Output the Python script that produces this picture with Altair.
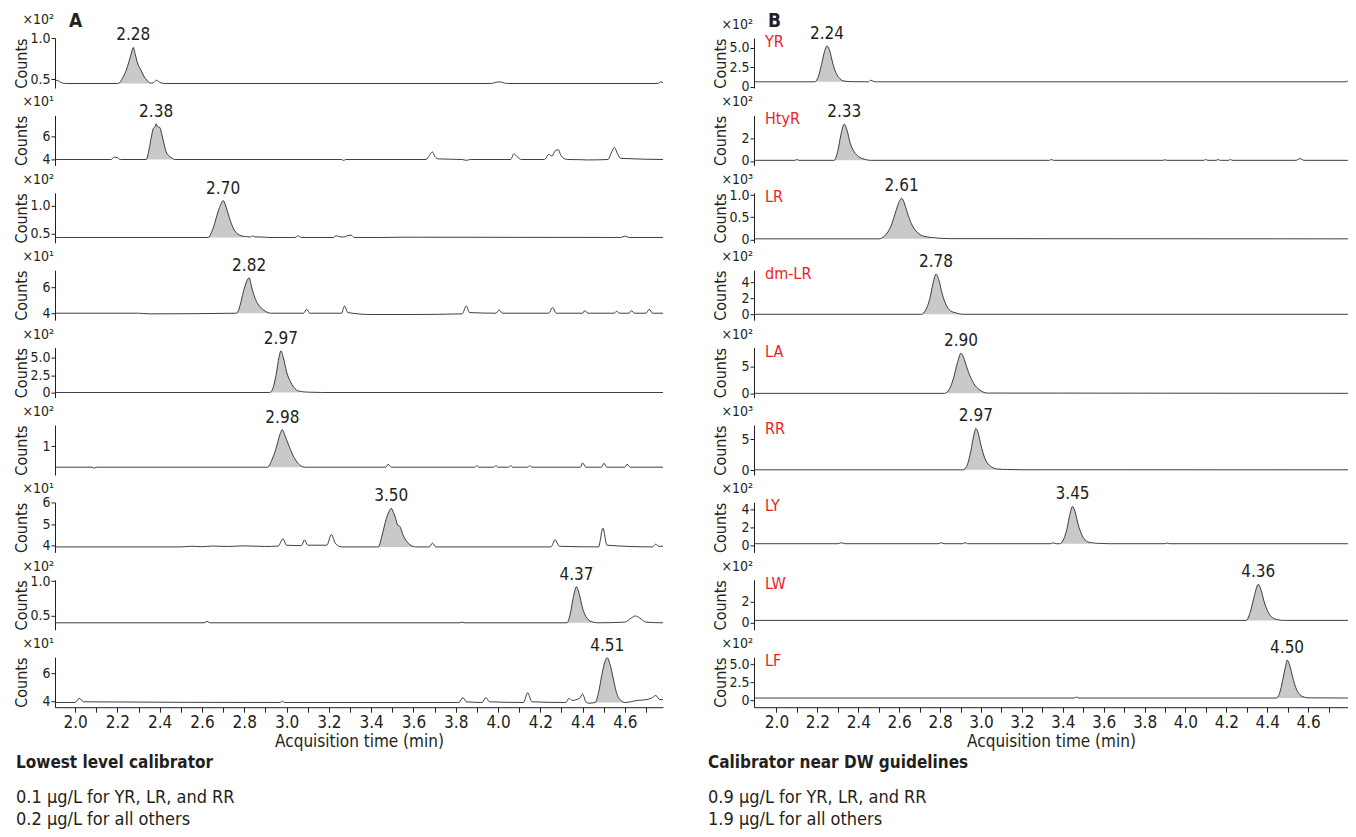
import altair as alt
import pandas as pd

FONT = "'Liberation Sans Narrow', 'DejaVu Sans Condensed', 'Roboto Condensed', 'Arial Narrow', 'Liberation Sans', sans-serif"
INK = "#231f20"
RED = "#ed1c24"

# ---------------- data: column A (lowest level calibrator) ----------------
A1_t = [1.905, 1.915, 1.925, 1.94, 1.96, 2.20, 2.21, 2.225, 2.24, 2.255, 2.265, 2.275, 2.285, 2.295, 2.31, 2.325, 2.34, 2.355, 2.37, 2.385, 2.40, 2.42, 3.97, 3.99, 4.01, 4.03, 4.05, 4.755, 4.77, 4.78]
A1_y = [0.46, 0.49, 0.475, 0.455, 0.45, 0.45, 0.46, 0.52, 0.60, 0.72, 0.81, 0.89, 0.80, 0.70, 0.62, 0.54, 0.49, 0.455, 0.46, 0.49, 0.465, 0.45, 0.45, 0.465, 0.47, 0.455, 0.45, 0.45, 0.47, 0.46]
A2_t = [1.905, 2.17, 2.185, 2.20, 2.215, 2.336, 2.35, 2.36, 2.37, 2.378, 2.383, 2.39, 2.40, 2.41, 2.42, 2.43, 2.445, 2.46, 2.47, 3.26, 3.27, 3.28, 3.66, 3.675, 3.69, 3.70, 3.72, 3.83, 3.85, 3.87, 4.06, 4.075, 4.09, 4.11, 4.22, 4.24, 4.255, 4.27, 4.285, 4.295, 4.31, 4.33, 4.40, 4.42, 4.52, 4.535, 4.55, 4.565, 4.58, 4.78]
A2_y = [4.0, 4.0, 4.2, 4.15, 4.0, 4.0, 4.9, 5.9, 6.7, 6.85, 7.1, 6.85, 6.8, 6.2, 5.4, 4.7, 4.3, 4.1, 4.0, 4.0, 3.92, 4.0, 4.0, 4.35, 4.65, 4.3, 4.05, 4.0, 3.93, 4.0, 4.0, 4.5, 4.25, 4.0, 4.0, 4.45, 4.3, 4.75, 4.85, 4.45, 4.1, 4.0, 3.98, 3.96, 4.0, 4.55, 5.05, 4.5, 4.1, 4.0]
A3_t = [1.905, 2.63, 2.645, 2.66, 2.675, 2.69, 2.70, 2.71, 2.72, 2.735, 2.75, 2.77, 2.80, 2.83, 2.84, 2.85, 2.87, 2.92, 3.04, 3.054, 3.07, 3.22, 3.235, 3.255, 3.275, 3.29, 3.305, 3.32, 3.46, 3.55, 4.58, 4.60, 4.62, 4.78]
A3_y = [0.43, 0.43, 0.52, 0.68, 0.88, 1.03, 1.09, 1.02, 0.90, 0.72, 0.58, 0.49, 0.45, 0.44, 0.46, 0.44, 0.44, 0.43, 0.43, 0.46, 0.43, 0.43, 0.46, 0.44, 0.44, 0.465, 0.47, 0.43, 0.43, 0.435, 0.43, 0.455, 0.43, 0.43]
A4_t = [1.905, 2.30, 2.35, 2.764, 2.78, 2.795, 2.81, 2.823, 2.835, 2.85, 2.865, 2.88, 2.90, 2.925, 3.08, 3.095, 3.11, 3.26, 3.274, 3.29, 3.40, 3.60, 3.83, 3.85, 3.865, 3.99, 4.005, 4.02, 4.24, 4.258, 4.275, 4.40, 4.41, 4.425, 4.55, 4.56, 4.575, 4.62, 4.63, 4.645, 4.70, 4.715, 4.73, 4.78]
A4_y = [4.0, 4.0, 3.95, 4.0, 4.6, 5.6, 6.4, 6.72, 6.0, 5.2, 4.7, 4.4, 4.15, 4.0, 4.0, 4.3, 4.0, 4.0, 4.55, 4.05, 3.9, 3.9, 3.95, 4.55, 4.05, 4.0, 4.25, 4.0, 4.0, 4.45, 4.0, 4.0, 4.2, 4.0, 4.0, 4.15, 4.0, 4.0, 4.2, 4.0, 4.0, 4.3, 4.0, 4.0]
A5_t = [1.905, 2.92, 2.935, 2.95, 2.965, 2.973, 2.985, 3.00, 3.02, 3.04, 3.065, 3.10, 3.17, 4.78]
A5_y = [0.05, 0.05, 0.6, 2.5, 5.2, 6.0, 5.0, 3.0, 1.5, 0.6, 0.2, 0.1, 0.05, 0.05]
A6_t = [1.905, 2.08, 2.09, 2.10, 2.91, 2.93, 2.95, 2.97, 2.98, 2.99, 3.01, 3.03, 3.05, 3.07, 3.085, 3.47, 3.48, 3.495, 3.89, 3.90, 3.91, 3.98, 3.99, 4.0, 4.05, 4.06, 4.07, 4.14, 4.15, 4.16, 4.39, 4.40, 4.415, 4.49, 4.50, 4.515, 4.60, 4.61, 4.625, 4.78]
A6_y = [0.58, 0.58, 0.56, 0.58, 0.58, 0.72, 0.95, 1.25, 1.33, 1.24, 1.02, 0.82, 0.68, 0.60, 0.58, 0.58, 0.64, 0.58, 0.58, 0.61, 0.58, 0.58, 0.61, 0.58, 0.58, 0.61, 0.58, 0.58, 0.61, 0.58, 0.58, 0.665, 0.58, 0.58, 0.66, 0.58, 0.58, 0.64, 0.58, 0.58]
A7_t = [1.905, 2.50, 2.55, 2.60, 2.65, 2.72, 2.80, 2.90, 2.96, 2.983, 3.00, 3.07, 3.085, 3.10, 3.19, 3.212, 3.23, 3.26, 3.434, 3.45, 3.47, 3.485, 3.495, 3.505, 3.515, 3.525, 3.535, 3.55, 3.575, 3.61, 3.675, 3.69, 3.705, 4.25, 4.27, 4.29, 4.475, 4.496, 4.515, 4.73, 4.746, 4.76, 4.78]
A7_y = [3.92, 3.92, 3.95, 3.93, 3.96, 3.94, 3.97, 3.94, 3.96, 4.3, 4.0, 3.98, 4.25, 4.0, 4.0, 4.5, 4.1, 3.92, 3.92, 4.4, 5.2, 5.6, 5.74, 5.55, 5.3, 4.95, 4.9, 4.5, 4.1, 3.92, 3.92, 4.1, 3.92, 3.92, 4.25, 3.95, 3.92, 4.8, 4.0, 3.92, 4.05, 3.95, 3.95]
A8_t = [1.905, 2.61, 2.624, 2.64, 3.82, 3.83, 3.84, 4.326, 4.34, 4.355, 4.371, 4.385, 4.40, 4.42, 4.44, 4.47, 4.60, 4.63, 4.65, 4.67, 4.70, 4.78]
A8_y = [0.39, 0.39, 0.41, 0.39, 0.39, 0.40, 0.39, 0.39, 0.5, 0.75, 0.92, 0.8, 0.6, 0.46, 0.41, 0.39, 0.40, 0.46, 0.49, 0.46, 0.40, 0.39]
A9_t = [1.905, 2.00, 2.02, 2.04, 2.97, 2.98, 2.99, 3.815, 3.834, 3.85, 3.925, 3.942, 3.96, 4.12, 4.14, 4.16, 4.32, 4.336, 4.35, 4.385, 4.40, 4.415, 4.43, 4.459, 4.475, 4.49, 4.505, 4.516, 4.53, 4.545, 4.56, 4.58, 4.60, 4.66, 4.70, 4.73, 4.746, 4.765, 4.78]
A9_y = [3.9, 3.9, 4.2, 3.95, 3.9, 4.0, 3.9, 3.9, 4.25, 3.95, 3.9, 4.25, 3.95, 3.9, 4.6, 3.95, 3.9, 4.2, 4.05, 4.2, 4.5, 3.95, 3.85, 3.9, 4.6, 5.8, 6.8, 7.1, 6.6, 5.6, 4.6, 4.05, 3.9, 4.05, 4.1, 4.25, 4.4, 4.1, 4.1]

A_rt = ["2.28", "2.38", "2.70", "2.82", "2.97", "2.98", "3.50", "4.37", "4.51"]
A_mult = ["×10²", "×10¹", "×10²", "×10¹", "×10²", "×10²", "×10¹", "×10²", "×10¹"]
A_peak = [(2.20, 2.355), (2.336, 2.47), (2.63, 2.80), (2.764, 2.925), (2.92, 3.07), (2.91, 3.085), (3.434, 3.61), (4.326, 4.47), (4.459, 4.60)]
A_dom = [(0.395, 1.005), (3.487, 7.835), (0.335, 1.228), (3.462, 7.308), (-0.679, 6.464), (0.424, 1.424), (3.661, 6.019), (0.287, 1.022), (3.564, 7.135)]
A_ticks = [[0.5, 1.0], [4, 6], [0.5, 1.0], [4, 6], [0, 2.5, 5.0], [1], [4, 5, 6], [0.5, 1.0], [4, 6]]
A_fmt = [".1f", "d", ".1f", "d", ".1f", "d", "d", ".1f", "d"]

# ---------------- data: column B (calibrator near DW guidelines) ----------------
B1_t = [1.89, 2.188, 2.205, 2.22, 2.235, 2.247, 2.26, 2.275, 2.29, 2.31, 2.33, 2.37, 2.45, 2.46, 2.475, 2.49, 4.78, 4.795]
B1_y = [0.6, 0.6, 1.3, 2.8, 4.5, 5.2, 4.6, 3.0, 1.8, 1.0, 0.7, 0.62, 0.6, 0.8, 0.65, 0.6, 0.6, 0.7]
B2_t = [1.89, 2.09, 2.10, 2.11, 2.282, 2.30, 2.315, 2.331, 2.345, 2.36, 2.38, 2.40, 2.43, 2.46, 3.335, 3.343, 3.355, 3.89, 3.90, 3.91, 4.09, 4.098, 4.11, 4.15, 4.16, 4.17, 4.21, 4.22, 4.23, 4.54, 4.56, 4.58, 4.795]
B2_y = [0.05, 0.05, 0.12, 0.05, 0.05, 0.9, 2.3, 3.23, 2.7, 1.6, 0.8, 0.4, 0.15, 0.05, 0.05, 0.13, 0.05, 0.05, 0.1, 0.05, 0.05, 0.12, 0.05, 0.05, 0.12, 0.05, 0.05, 0.12, 0.05, 0.05, 0.2, 0.05, 0.05]
B3_t = [1.89, 2.50, 2.53, 2.56, 2.585, 2.60, 2.612, 2.625, 2.64, 2.66, 2.69, 2.72, 2.76, 2.85, 4.795]
B3_y = [0.01, 0.01, 0.08, 0.3, 0.65, 0.85, 0.925, 0.82, 0.6, 0.35, 0.15, 0.07, 0.04, 0.015, 0.01]
B4_t = [1.89, 2.709, 2.73, 2.75, 2.765, 2.78, 2.795, 2.81, 2.83, 2.85, 2.88, 2.91, 4.795]
B4_y = [0.05, 0.05, 0.6, 2.0, 3.8, 5.0, 4.2, 2.6, 1.2, 0.5, 0.2, 0.05, 0.05]
B5_t = [1.89, 2.822, 2.845, 2.865, 2.885, 2.902, 2.915, 2.93, 2.95, 2.97, 2.99, 3.01, 3.03, 4.795]
B5_y = [0.05, 0.05, 0.8, 2.8, 5.8, 7.6, 6.8, 5.0, 3.0, 1.6, 0.8, 0.3, 0.1, 0.05]
B6_t = [1.89, 2.912, 2.93, 2.95, 2.965, 2.975, 2.985, 3.00, 3.02, 3.04, 3.06, 3.08, 3.13, 3.20, 4.795]
B6_y = [0.03, 0.03, 0.6, 3.0, 5.6, 6.7, 6.1, 4.0, 1.8, 0.8, 0.35, 0.15, 0.08, 0.04, 0.03]
B7_t = [1.89, 2.30, 2.318, 2.335, 2.79, 2.807, 2.82, 2.91, 2.923, 2.935, 3.34, 3.353, 3.37, 3.385, 3.40, 3.42, 3.435, 3.448, 3.46, 3.475, 3.495, 3.515, 3.54, 3.58, 3.63, 3.90, 3.91, 3.92, 4.795]
B7_y = [0.19, 0.19, 0.3, 0.19, 0.19, 0.3, 0.19, 0.19, 0.3, 0.19, 0.19, 0.28, 0.19, 0.19, 0.5, 1.8, 3.5, 4.38, 3.8, 2.4, 1.1, 0.5, 0.3, 0.22, 0.19, 0.19, 0.27, 0.19, 0.19]
B8_t = [1.89, 4.297, 4.315, 4.335, 4.356, 4.37, 4.385, 4.405, 4.425, 4.45, 4.48, 4.795]
B8_y = [0.23, 0.23, 0.9, 2.4, 3.66, 3.1, 2.0, 1.0, 0.5, 0.3, 0.23, 0.23]
B9_t = [1.89, 3.455, 3.468, 3.48, 4.444, 4.46, 4.475, 4.49, 4.497, 4.51, 4.525, 4.54, 4.555, 4.575, 4.60, 4.795]
B9_y = [0.37, 0.37, 0.5, 0.37, 0.37, 1.0, 2.8, 4.8, 5.65, 4.9, 3.2, 1.8, 1.0, 0.55, 0.4, 0.37]

B_rt = ["2.24", "2.33", "2.61", "2.78", "2.90", "2.97", "3.45", "4.36", "4.50"]
B_name = ["YR", "HtyR", "LR", "dm-LR", "LA", "RR", "LY", "LW", "LF"]
B_mult = ["×10²", "×10²", "×10³", "×10²", "×10²", "×10³", "×10²", "×10²", "×10²"]
B_peak = [(2.188, 2.37), (2.282, 2.46), (2.50, 2.76), (2.709, 2.91), (2.822, 3.03), (2.912, 3.13), (3.385, 3.54), (4.297, 4.48), (4.444, 4.60)]
B_dom = [(-0.192, 6.218), (-0.396, 4.009), (-0.079, 1.05), (-0.679, 5.49), (-0.752, 8.646), (-0.806, 7.258), (-0.787, 4.831), (-0.667, 4.095), (-0.903, 6.041)]
B_ticks = [[0, 2.5, 5.0], [0, 2], [0, 0.5, 1.0], [0, 2, 4], [0, 5], [0, 5], [0, 2, 4], [0, 2], [0, 2.5, 5.0]]
B_fmt = [".1f", "d", ".1f", "d", "d", "d", "d", "d", ".1f"]

X_TICKS = [2.0, 2.1, 2.2, 2.3, 2.4, 2.5, 2.6, 2.7, 2.8, 2.9, 3.0, 3.1, 3.2, 3.3, 3.4, 3.5, 3.6, 3.7, 3.8, 3.9, 4.0, 4.1, 4.2, 4.3, 4.4, 4.5, 4.6, 4.7]
XA_DOM = [1.905, 4.78]
XB_DOM = [1.89, 4.795]

FOOT_A = ["Lowest level calibrator", "0.1 µg/L for YR, LR, and RR", "0.2 µg/L for all others"]
FOOT_B = ["Calibrator near DW guidelines", "0.9 µg/L for YR, LR, and RR", "1.9 µg/L for all others"]

A_T = [A1_t, A2_t, A3_t, A4_t, A5_t, A6_t, A7_t, A8_t, A9_t]
A_Y = [A1_y, A2_y, A3_y, A4_y, A5_y, A6_y, A7_y, A8_y, A9_y]
B_T = [B1_t, B2_t, B3_t, B4_t, B5_t, B6_t, B7_t, B8_t, B9_t]
B_Y = [B1_y, B2_y, B3_y, B4_y, B5_y, B6_y, B7_y, B8_y, B9_y]

H = 50
WA = 608
WB = 594


def txt(s, x, y, size, align="left", weight="normal", color=INK):
    return alt.Chart(pd.DataFrame({"s": [s]})).mark_text(
        font=FONT, fontSize=size, fontWeight=weight, color=color, align=align,
        baseline="middle").encode(x=alt.value(x), y=alt.value(y), text="s:N")


def panel(t, y, xdom, width, dom, ticks, fmt, peak, rt, mult, name=None,
          letter=None, last=False, footer=None, foot_dx=0, mult_dy=-13, anchor=False):
    df = pd.DataFrame({"t": t, "y": y})
    i0 = max(range(len(y)), key=lambda k: y[k])
    base = y[t.index(peak[0])]
    lab = pd.DataFrame({"t": [t[i0]], "y": [y[i0]], "lbl": [rt]})

    if last:
        xaxis = alt.Axis(values=X_TICKS, grid=False, tickSize=5, tickColor=INK,
                         domainColor=INK, labelColor=INK, labelFontSize=17, labelFont=FONT,
                         labelPadding=2, labelFlush=False,
                         labelExpr="round(datum.value*10) % 2 == 0 ? format(datum.value, '.1f') : ''",
                         title="Acquisition time (min)", titleFont=FONT, titleFontSize=17,
                         titleFontWeight="normal", titleColor=INK, titlePadding=3)
    else:
        xaxis = None
    X = alt.X("t:Q", scale=alt.Scale(domain=xdom, nice=False, zero=False), axis=xaxis)
    yaxis = alt.Axis(values=ticks, grid=False, tickSize=4, tickColor=INK, domainColor=INK,
                     labelColor=INK, labelFontSize=14, labelFont=FONT, labelPadding=1,
                     labelExpr=f"datum.value == 0 ? '0' : format(datum.value, '{fmt}')",
                     title="Counts", titleFont=FONT, titleFontSize=16, titleFontWeight="normal",
                     titleColor=INK, titleAngle=-90, titleX=-34, titleY=H / 2,
                     titleAlign="center", titleBaseline="middle")
    Y = alt.Y("y:Q", scale=alt.Scale(domain=list(dom), nice=False, zero=False), axis=yaxis)

    area = alt.Chart(df).transform_filter(
        f"datum.t >= {peak[0]} && datum.t <= {peak[1]}"
    ).mark_area(color="#c9c9c9", interpolate="monotone", clip=True).encode(
        x=X, y=Y, y2=alt.datum(base))
    line = alt.Chart(df).mark_line(color="#2a2a2a", strokeWidth=0.9, interpolate="monotone",
                                   clip=True).encode(x=X, y=Y)
    label = alt.Chart(lab).mark_text(font=FONT, fontSize=17, color=INK, dy=-7,
                                     baseline="alphabetic").encode(x=X, y=Y, text="lbl:N")
    layers = [area, line, label, txt(mult, -1, mult_dy, 14, align="right")]
    if name is not None:
        layers.append(txt(name, 11, 4, 16, color=RED))
    if letter is not None:
        layers.append(txt(letter, 14, -17, 19, weight="bold"))
    if anchor:
        an = pd.DataFrame({"s": [0]})
        layers.append(alt.Chart(an).mark_point(opacity=0, size=1).encode(
            x=alt.value(-46), y=alt.value(-29.5)))
    if footer is not None:
        layers.append(txt(footer[0], foot_dx, H + 56, 17, weight="bold"))
        layers.append(txt(footer[1], foot_dx, H + 91, 18))
        layers.append(txt(footer[2], foot_dx, H + 113, 18))
    return alt.layer(*layers).properties(width=width, height=H)


cells = []
for i in range(9):
    cells.append(panel(A_T[i], A_Y[i], XA_DOM, WA, A_dom[i], A_ticks[i], A_fmt[i], A_peak[i],
                       A_rt[i], A_mult[i], letter="A" if i == 0 else None, last=(i == 8),
                       footer=FOOT_A if i == 8 else None, foot_dx=-39,
                       mult_dy=(-18 if i == 0 else -13), anchor=(i == 0)))
    cells.append(panel(B_T[i], B_Y[i], XB_DOM, WB, B_dom[i], B_ticks[i], B_fmt[i], B_peak[i],
                       B_rt[i], B_mult[i], name=B_name[i], letter="B" if i == 0 else None,
                       last=(i == 8), footer=FOOT_B if i == 8 else None, foot_dx=-46,
                       mult_dy=-13))

chart = alt.concat(*cells, columns=2, spacing={"row": 27.4, "column": 91}, bounds="flush").properties(
    padding={"left": 0, "top": 0, "right": 0, "bottom": 0}
).resolve_scale(x="independent", y="independent").configure(
    font=FONT, background="white", view=alt.ViewConfig(stroke="transparent", strokeWidth=0))

chart.save("out.html", embed_options={"renderer": "svg", "actions": False})
